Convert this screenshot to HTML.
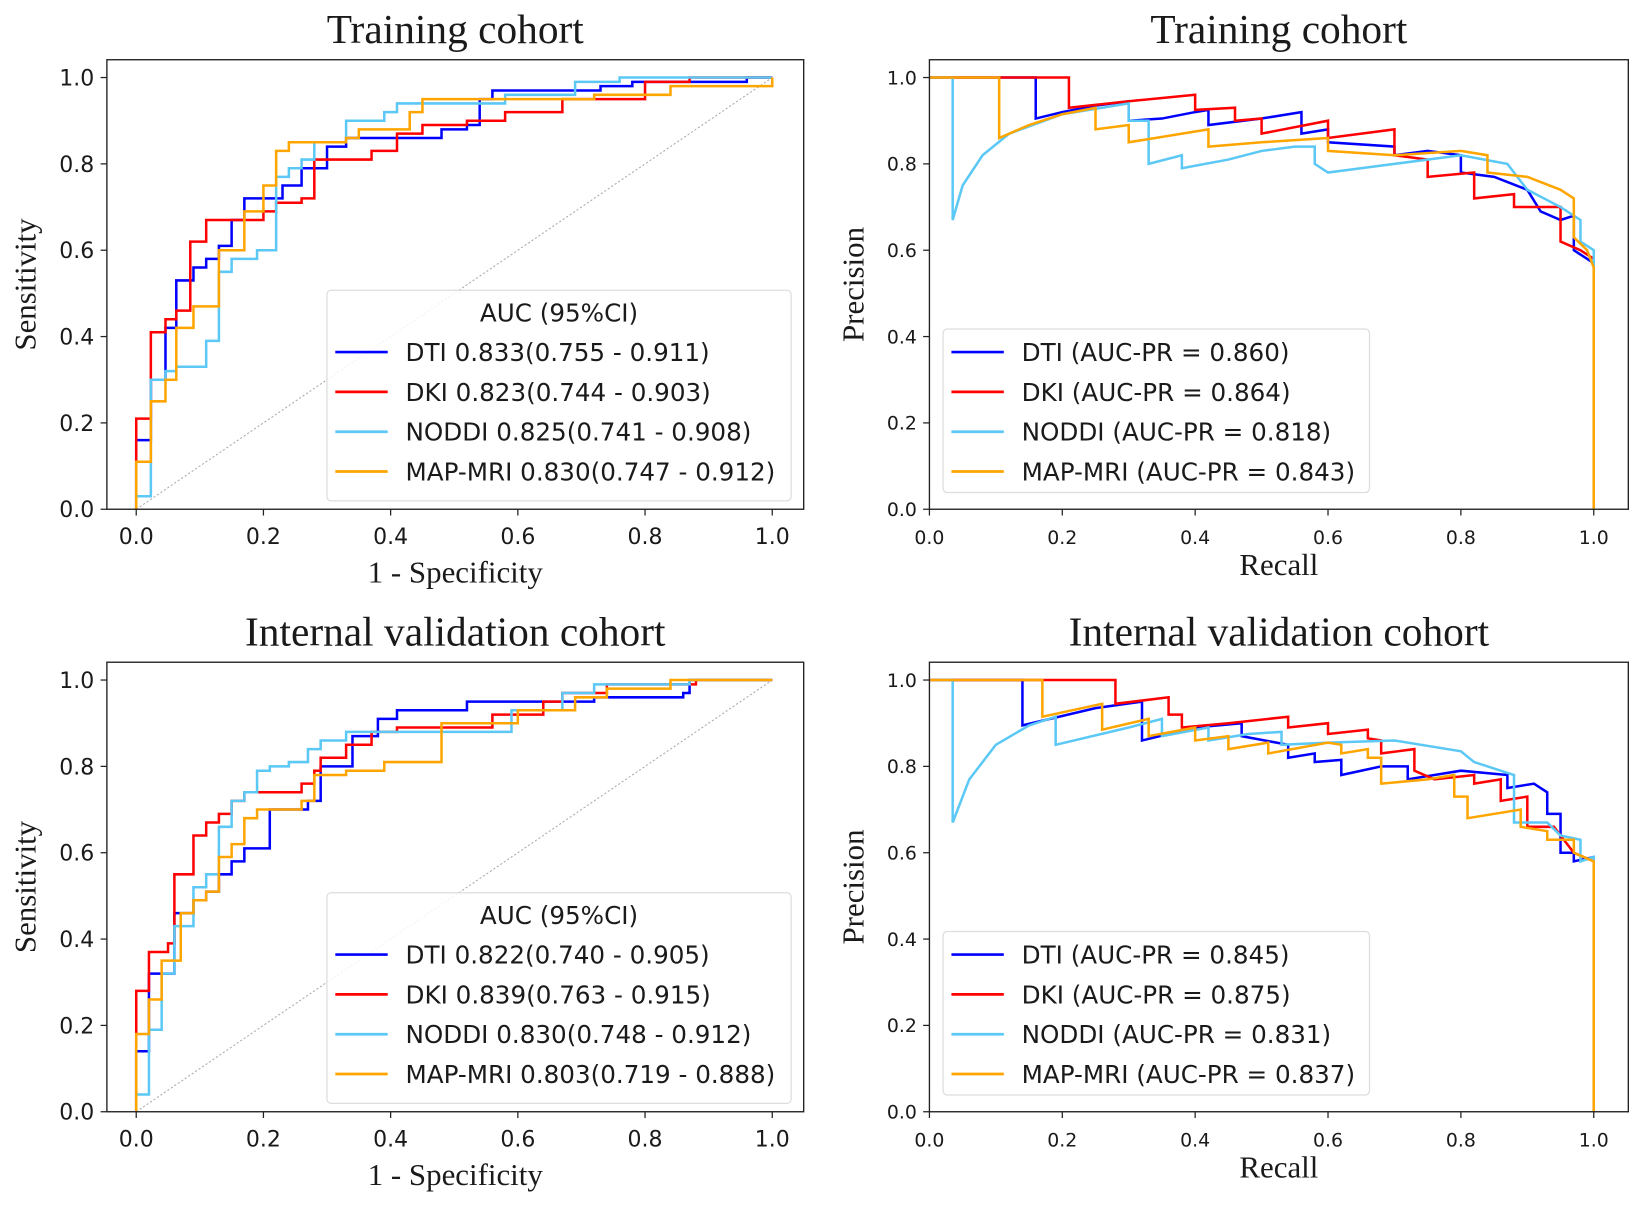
<!DOCTYPE html>
<html><head><meta charset="utf-8"><style>
html,body{margin:0;padding:0;background:#fff}
svg{display:block}
text{fill:#1a1a1a}
.serif{font-family:"Liberation Serif",serif}
.sans{font-family:"DejaVu Sans","Liberation Sans",sans-serif}
</style></head><body>
<svg id="fig" width="1643" height="1205" viewBox="0 0 1568 1150" xmlns="http://www.w3.org/2000/svg"></svg>
<script>
// ---- data ----
const seriesNames = ["DTI","DKI","NODDI","MAP-MRI"];
const seriesColors = ["#0000ff","#ff0000","#5bc8f5","#ffa500"];
const rocTicks = [0.0,0.2,0.4,0.6,0.8,1.0];
const tickLabels = ["0.0","0.2","0.4","0.6","0.8","1.0"];
const rocLegendTrain = ["DTI 0.833(0.755 - 0.911)","DKI 0.823(0.744 - 0.903)","NODDI 0.825(0.741 - 0.908)","MAP-MRI 0.830(0.747 - 0.912)"];
const rocLegendVal = ["DTI 0.822(0.740 - 0.905)","DKI 0.839(0.763 - 0.915)","NODDI 0.830(0.748 - 0.912)","MAP-MRI 0.803(0.719 - 0.888)"];
const prLegendTrain = ["DTI (AUC-PR = 0.860)","DKI (AUC-PR = 0.864)","NODDI (AUC-PR = 0.818)","MAP-MRI (AUC-PR = 0.843)"];
const prLegendVal = ["DTI (AUC-PR = 0.845)","DKI (AUC-PR = 0.875)","NODDI (AUC-PR = 0.831)","MAP-MRI (AUC-PR = 0.837)"];

// ROC training
const rocTrainDTI_fpr=[0,0,0.023,0.046,0.063,0.09,0.11,0.13,0.15,0.17,0.23,0.26,0.30,0.33,0.48,0.52,0.54,0.56,0.73,0.78,0.96,1.0];
const rocTrainDTI_tpr=[0,0.16,0.30,0.42,0.53,0.56,0.58,0.61,0.67,0.72,0.75,0.79,0.84,0.86,0.88,0.89,0.95,0.97,0.98,0.99,1.0,1.0];
const rocTrainDKI_fpr=[0,0,0.023,0.046,0.063,0.085,0.11,0.17,0.2,0.22,0.26,0.28,0.37,0.41,0.45,0.52,0.58,0.67,0.8,0.87,1.0];
const rocTrainDKI_tpr=[0,0.21,0.41,0.44,0.46,0.62,0.67,0.67,0.69,0.71,0.72,0.81,0.83,0.87,0.89,0.90,0.92,0.95,0.99,1.0,1.0];
const rocTrainNOD_fpr=[0,0,0.023,0.046,0.063,0.11,0.13,0.15,0.19,0.22,0.24,0.26,0.28,0.33,0.39,0.41,0.58,0.69,0.76,1.0];
const rocTrainNOD_tpr=[0,0.03,0.30,0.32,0.33,0.39,0.55,0.58,0.60,0.77,0.79,0.81,0.85,0.90,0.92,0.94,0.96,0.99,1.0,1.0];
const rocTrainMAP_fpr=[0,0,0.023,0.046,0.063,0.09,0.13,0.17,0.2,0.22,0.24,0.33,0.35,0.43,0.45,0.72,0.84,1.0,1.0];
const rocTrainMAP_tpr=[0,0.11,0.25,0.30,0.42,0.47,0.60,0.69,0.75,0.83,0.85,0.86,0.88,0.92,0.95,0.96,0.98,0.99,1.0];
// ROC validation
const rocValDTI_fpr=[0,0,0.02,0.06,0.09,0.11,0.13,0.15,0.17,0.21,0.27,0.29,0.34,0.38,0.41,0.52,0.72,0.86,0.87,1.0];
const rocValDTI_tpr=[0,0.14,0.32,0.46,0.49,0.51,0.55,0.58,0.61,0.70,0.72,0.80,0.87,0.91,0.93,0.95,0.96,0.97,1.0,1.0];
const rocValDKI_fpr=[0,0,0.02,0.05,0.06,0.09,0.11,0.13,0.15,0.17,0.26,0.28,0.29,0.33,0.37,0.41,0.56,0.64,0.67,0.74,0.88,1.0];
const rocValDKI_tpr=[0,0.28,0.37,0.39,0.55,0.64,0.67,0.69,0.72,0.74,0.76,0.79,0.82,0.85,0.88,0.89,0.92,0.95,0.97,0.99,1.0,1.0];
const rocValNOD_fpr=[0,0,0.02,0.04,0.06,0.09,0.11,0.13,0.15,0.17,0.19,0.21,0.24,0.27,0.29,0.33,0.59,0.67,0.72,0.87,1.0];
const rocValNOD_tpr=[0,0.04,0.19,0.32,0.43,0.52,0.55,0.66,0.72,0.74,0.79,0.80,0.81,0.84,0.86,0.88,0.93,0.97,0.99,1.0,1.0];
const rocValMAP_fpr=[0,0,0.02,0.04,0.07,0.09,0.11,0.13,0.15,0.17,0.19,0.26,0.28,0.33,0.39,0.48,0.56,0.6,0.69,0.74,0.84,1.0];
const rocValMAP_tpr=[0,0.18,0.26,0.35,0.46,0.49,0.51,0.59,0.62,0.68,0.70,0.72,0.78,0.79,0.81,0.90,0.90,0.93,0.96,0.98,1.0,1.0];

// PR training
const prTrainDTI_r=[0,0.16,0.16,0.2,0.25,0.3,0.3,0.35,0.4,0.42,0.42,0.5,0.56,0.56,0.6,0.6,0.7,0.7,0.75,0.8,0.8,0.85,0.9,0.92,0.95,0.97,0.97,0.99,1.0,1.0];
const prTrainDTI_p=[1,1,0.905,0.92,0.935,0.945,0.90,0.905,0.92,0.925,0.89,0.905,0.92,0.87,0.88,0.85,0.84,0.82,0.83,0.82,0.78,0.77,0.74,0.69,0.67,0.68,0.6,0.58,0.57,0];
const prTrainDKI_r=[0,0.21,0.21,0.3,0.4,0.4,0.46,0.46,0.5,0.5,0.6,0.6,0.7,0.7,0.75,0.75,0.82,0.82,0.88,0.88,0.95,0.95,0.98,1.0,1.0];
const prTrainDKI_p=[1,1,0.93,0.945,0.96,0.925,0.93,0.90,0.905,0.87,0.90,0.86,0.88,0.82,0.81,0.77,0.78,0.72,0.73,0.70,0.70,0.62,0.60,0.58,0];
const prTrainNOD_r=[0,0.035,0.035,0.05,0.08,0.12,0.2,0.3,0.3,0.33,0.33,0.38,0.38,0.45,0.5,0.55,0.58,0.58,0.6,0.7,0.8,0.87,0.9,0.95,0.98,0.98,1.0,1.0];
const prTrainNOD_p=[1,1,0.67,0.75,0.82,0.87,0.915,0.94,0.90,0.90,0.80,0.82,0.79,0.81,0.83,0.84,0.84,0.80,0.78,0.80,0.82,0.80,0.74,0.70,0.67,0.62,0.6,0];
const prTrainMAP_r=[0,0.105,0.105,0.15,0.2,0.25,0.25,0.3,0.3,0.4,0.42,0.42,0.5,0.6,0.6,0.7,0.8,0.84,0.84,0.9,0.95,0.97,0.97,0.99,1.0,1.0];
const prTrainMAP_p=[1,1,0.86,0.89,0.915,0.93,0.88,0.89,0.85,0.875,0.88,0.84,0.85,0.86,0.83,0.82,0.83,0.82,0.78,0.77,0.74,0.72,0.63,0.6,0.56,0];
// PR validation
const prValDTI_r=[0,0.14,0.14,0.25,0.32,0.32,0.4,0.47,0.47,0.54,0.54,0.58,0.58,0.62,0.62,0.68,0.72,0.72,0.8,0.87,0.87,0.91,0.93,0.93,0.95,0.95,0.97,0.97,1.0,1.0];
const prValDTI_p=[1,1,0.895,0.935,0.95,0.86,0.89,0.90,0.87,0.85,0.82,0.83,0.81,0.815,0.78,0.80,0.80,0.77,0.79,0.78,0.75,0.76,0.74,0.69,0.69,0.6,0.6,0.58,0.59,0];
const prValDKI_r=[0,0.28,0.28,0.36,0.36,0.38,0.38,0.45,0.54,0.54,0.6,0.6,0.66,0.66,0.68,0.68,0.73,0.73,0.76,0.82,0.82,0.86,0.86,0.9,0.9,0.94,0.96,0.97,1.0,1.0];
const prValDKI_p=[1,1,0.945,0.96,0.92,0.92,0.89,0.90,0.915,0.89,0.90,0.875,0.885,0.865,0.86,0.83,0.84,0.79,0.77,0.78,0.76,0.77,0.72,0.73,0.66,0.66,0.62,0.6,0.58,0];
const prValNOD_r=[0,0.035,0.035,0.06,0.1,0.15,0.19,0.19,0.3,0.35,0.35,0.42,0.42,0.48,0.53,0.53,0.6,0.7,0.8,0.82,0.88,0.88,0.93,0.95,0.98,0.98,1.0,1.0];
const prValNOD_p=[1,1,0.67,0.77,0.85,0.895,0.915,0.85,0.89,0.91,0.87,0.89,0.86,0.875,0.88,0.85,0.855,0.86,0.835,0.81,0.78,0.67,0.67,0.64,0.63,0.58,0.59,0];
const prValMAP_r=[0,0.17,0.17,0.26,0.26,0.33,0.33,0.4,0.4,0.45,0.45,0.51,0.51,0.6,0.62,0.62,0.66,0.66,0.68,0.68,0.75,0.79,0.79,0.81,0.81,0.89,0.89,0.93,0.93,0.97,0.97,1.0,1.0];
const prValMAP_p=[1,1,0.915,0.945,0.885,0.91,0.87,0.89,0.86,0.87,0.84,0.855,0.83,0.855,0.85,0.83,0.84,0.82,0.82,0.76,0.77,0.78,0.73,0.73,0.68,0.70,0.66,0.65,0.63,0.63,0.6,0.58,0];

const NS="http://www.w3.org/2000/svg";
const svg=document.getElementById('fig');
function mk(tag,attrs,parent,txt){const e=document.createElementNS(NS,tag);for(const k in attrs)e.setAttribute(k,attrs[k]);if(txt!==undefined)e.textContent=txt;(parent||svg).appendChild(e);return e;}

function panel(opt){
  const g=mk('g',{});
  
  
  const X=v=>opt.x0+opt.xs*v, Y=v=>opt.yb-412*v;
  const t=mk('text',{x:(opt.L+opt.R)/2,y:opt.T-16,'text-anchor':'middle','font-size':39.5,class:'serif'},g,opt.title);
  
  if(opt.diag){const d=mk('line',{x1:X(0),y1:Y(0),x2:X(1),y2:Y(1),stroke:'#aaa','stroke-width':1,'stroke-dasharray':'2,2'},g);
    }
  opt.series.forEach((s,i)=>{
    let pts=[];
    for(let k=0;k<s[0].length;k++){
      if(opt.step && k>0) pts.push(X(s[0][k])+','+Y(s[1][k-1]));
      pts.push(X(s[0][k])+','+Y(s[1][k]));
    }
    const p=mk('polyline',{points:pts.join(' '),fill:'none',stroke:seriesColors[i],'stroke-width':2.4,'stroke-linejoin':'miter'},g);
    
    
  });
  const f=mk('rect',{x:opt.L,y:opt.T,width:opt.R-opt.L,height:opt.yb-opt.T,fill:'none',stroke:'#222','stroke-width':1.3},g);
  
  rocTicks.forEach((v,i)=>{
    mk('line',{x1:X(v),x2:X(v),y1:opt.yb,y2:opt.yb+6,stroke:'#222','stroke-width':1.2},g);
    const xl=mk('text',{x:X(v),y:opt.yb+33,'text-anchor':'middle','font-size':opt.fs,class:'sans'},g,tickLabels[i]);
    
    mk('line',{x1:opt.L-6,x2:opt.L,y1:Y(v),y2:Y(v),stroke:'#222','stroke-width':1.2},g);
    const yl=mk('text',{x:opt.L-12,y:Y(v)+opt.fs*0.36,'text-anchor':'end','font-size':opt.fs,class:'sans'},g,tickLabels[i]);
    
  });
  const xt=mk('text',{x:(opt.L+opt.R)/2,y:opt.yb+opt.xly,'text-anchor':'middle','font-size':29.5,class:'serif'},g,opt.xlabel);
  
  const cy=(opt.T+opt.yb)/2;
  const yt=mk('text',{x:opt.ylx,y:cy,'text-anchor':'middle','font-size':29.5,class:'serif',transform:`rotate(-90 ${opt.ylx} ${cy})`},g,opt.ylabel);
  
  const lg=mk('g',{},g);
  
  const lb=opt.leg;
  mk('rect',{x:lb.x,y:lb.y,width:lb.w,height:lb.h,rx:4,fill:'rgba(255,255,255,0.85)',stroke:'#ddd','stroke-width':1.2},lg);
  if(lb.title){mk('text',{x:lb.x+lb.w/2,y:lb.y+30,'text-anchor':'middle','font-size':23.5,class:'sans'},lg,lb.title);}
  lb.labels.forEach((s,i)=>{
    const yy=lb.first+38*i;
    const e=mk('g',{},lg);
    
    mk('line',{x1:lb.x+8,x2:lb.x+58,y1:yy,y2:yy,stroke:seriesColors[i],'stroke-width':2.6},e);
    mk('text',{x:lb.x+75,y:yy+8.5,'font-size':23.5,class:'sans'},e,s);
  });
}

const rocTrain=[[rocTrainDTI_fpr,rocTrainDTI_tpr],[rocTrainDKI_fpr,rocTrainDKI_tpr],[rocTrainNOD_fpr,rocTrainNOD_tpr],[rocTrainMAP_fpr,rocTrainMAP_tpr]];
const rocVal=[[rocValDTI_fpr,rocValDTI_tpr],[rocValDKI_fpr,rocValDKI_tpr],[rocValNOD_fpr,rocValNOD_tpr],[rocValMAP_fpr,rocValMAP_tpr]];
const prTrain=[[prTrainDTI_r,prTrainDTI_p],[prTrainDKI_r,prTrainDKI_p],[prTrainNOD_r,prTrainNOD_p],[prTrainMAP_r,prTrainMAP_p]];
const prVal=[[prValDTI_r,prValDTI_p],[prValDKI_r,prValDKI_p],[prValNOD_r,prValNOD_p],[prValMAP_r,prValMAP_p]];

[0,575].forEach((dy,row)=>{
  panel({name:row?'roc-validation-panel':'roc-training-panel',title:row?'Internal validation cohort':'Training cohort',
    L:102,R:767,T:57+dy,yb:486+dy,x0:130,xs:607,fs:21,diag:true,step:true,
    series:row?rocVal:rocTrain,xlabel:'1 - Specificity',ylabel:'Sensitivity',xly:70,ylx:34,
    leg:{x:312,y:277+dy,w:443,h:201,title:'AUC (95%CI)',first:336+dy,labels:row?rocLegendVal:rocLegendTrain}});
  panel({name:row?'pr-validation-panel':'pr-training-panel',title:row?'Internal validation cohort':'Training cohort',
    L:887,R:1554,T:57+dy,yb:486+dy,x0:887,xs:634,fs:18,diag:false,step:false,
    series:row?prVal:prTrain,xlabel:'Recall',ylabel:'Precision',xly:63,ylx:824,
    leg:{x:900,y:314+dy,w:407,h:156,title:null,first:336+dy,labels:row?prLegendVal:prLegendTrain}});
});
</script>
</body></html>
